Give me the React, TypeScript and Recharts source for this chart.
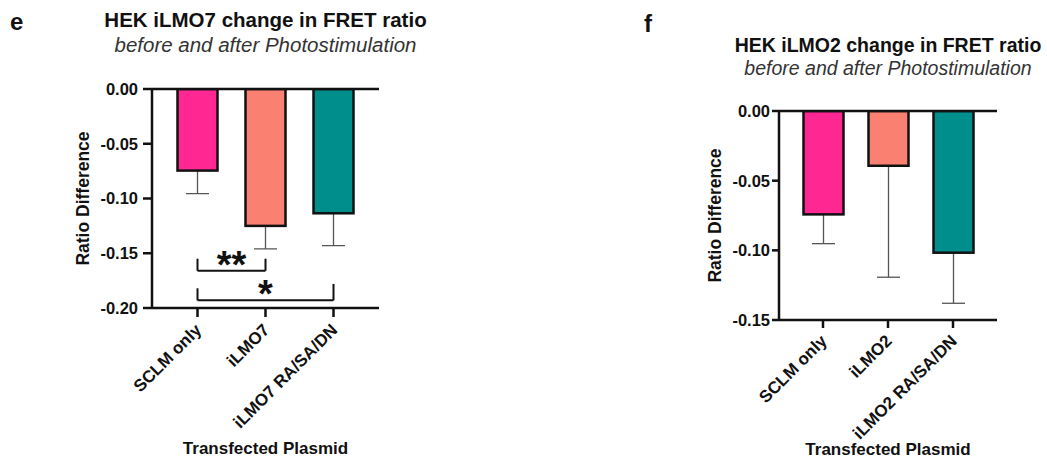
import { BarChart, Bar, XAxis, YAxis, ReferenceLine } from "recharts";

const FONT = '"Liberation Sans", Arial, Helvetica, sans-serif';

// panel e
const iLMO7Categories = ["SCLM only", "iLMO7", "iLMO7 RA/SA/DN"];
const iLMO7Means = [-0.0745, -0.125, -0.1135];
const iLMO7Errors = [0.021, 0.021, 0.0295];
const iLMO7Ticks = [0, -0.05, -0.1, -0.15, -0.2];

// panel f
const iLMO2Categories = ["SCLM only", "iLMO2", "iLMO2 RA/SA/DN"];
const iLMO2Means = [-0.0742, -0.0393, -0.1017];
const iLMO2Errors = [0.021, 0.08, 0.0363];
const iLMO2Ticks = [0, -0.05, -0.1, -0.15];

const barColors = ["#ff2893", "#fa8072", "#008e8c"];

// significance brackets for panel e (data units)
const bracketPairs = [
  ["SCLM only", "iLMO7"],
  ["SCLM only", "iLMO7 RA/SA/DN"],
];
const bracketLevels = [-0.166, -0.193];
const bracketLeftTops = [-0.155, -0.182];
const bracketRightTops = [-0.155, -0.178];
const bracketStars = ["**", "*"];

const ink = "#111";

function buildRows(cats: string[], means: number[], errs: number[]) {
  return cats.map((name, i) => ({
    name,
    value: means[i],
    err: errs[i],
    fill: barColors[i],
  }));
}

function BarWithError(props: any) {
  const { x, y, width, height, payload } = props;
  const top = Math.min(y, y + height);
  const h = Math.abs(height);
  const bottom = top + h;
  const perUnit = h / Math.abs(payload.value);
  const errEnd = bottom + payload.err * perUnit;
  const cx = x + width / 2;
  return (
    <g>
      <line x1={cx} x2={cx} y1={bottom} y2={errEnd} stroke="#555" strokeWidth={1.3} />
      <line x1={cx - 11.5} x2={cx + 11.5} y1={errEnd} y2={errEnd} stroke="#555" strokeWidth={1.3} />
      <rect x={x} y={top} width={width} height={h} fill={payload.fill} stroke={ink} strokeWidth={2.5} />
    </g>
  );
}

function RotatedTick(props: any) {
  const { x, y, payload } = props;
  return (
    <text
      transform={`translate(${x + 5},${y + 12}) rotate(-45)`}
      textAnchor="end"
      fontSize={17}
      fontWeight={700}
      fill={ink}
      fontFamily={FONT}
    >
      {payload.value}
    </text>
  );
}

function StarLabel(star: string) {
  return (props: any) => {
    const vb = props.viewBox || {};
    const cx = vb.x + (vb.width || 0) / 2;
    return (
      <text x={cx} y={vb.y + 7} textAnchor="middle" fontSize={38} fontWeight={700} fill={ink} fontFamily={FONT}>
        {star}
      </text>
    );
  };
}

const axisStroke = { stroke: ink, strokeWidth: 2.5 };

function Panel({
  rows,
  ticks,
  width,
  top,
  plotHeight,
  right,
  yAxisWidth,
  yLabelOffset,
  yTickSize,
  yTickMargin,
  xTickSize,
  xLabelOffset,
  brackets,
}: any) {
  const min = ticks[ticks.length - 1];
  return (
    <BarChart
      width={width}
      height={458}
      data={rows}
      margin={{ top, right, bottom: 0, left: 0 }}
      barSize={40}
    >
      <XAxis
        dataKey="name"
        height={458 - top - plotHeight}
        padding={{ left: 11.5, right: 11.5 }}
        interval={0}
        tickSize={xTickSize}
        axisLine={axisStroke}
        tickLine={axisStroke}
        tick={<RotatedTick />}
        label={{
          value: "Transfected Plasmid",
          position: "insideBottom",
          offset: xLabelOffset,
          style: { fontSize: 17, fontWeight: 700, fill: ink, fontFamily: FONT },
        }}
      />
      <YAxis
        domain={[min, 0]}
        ticks={ticks}
        interval={0}
        allowDataOverflow
        width={yAxisWidth}
        tickSize={yTickSize}
        tickMargin={yTickMargin}
        axisLine={axisStroke}
        tickLine={axisStroke}
        tick={{ fontSize: 16.5, fontWeight: 700, fill: ink, fontFamily: FONT }}
        tickFormatter={(v: number) => v.toFixed(2)}
        label={{
          value: "Ratio Difference",
          angle: -90,
          position: "insideLeft",
          offset: yLabelOffset,
          style: { textAnchor: "middle", fontSize: 17.5, fontWeight: 700, fill: ink, fontFamily: FONT },
        }}
      />
      <Bar dataKey="value" shape={<BarWithError />} isAnimationActive={false} />
      <ReferenceLine y={0} stroke={ink} strokeWidth={2.5} />
      {brackets &&
        bracketPairs.map((pair, i) => [
          <ReferenceLine
            key={`h${i}`}
            segment={[
              { x: pair[0], y: bracketLevels[i] },
              { x: pair[1], y: bracketLevels[i] },
            ]}
            stroke={ink}
            strokeWidth={2}
            label={{ content: StarLabel(bracketStars[i]) }}
          />,
          <ReferenceLine
            key={`l${i}`}
            segment={[
              { x: pair[0], y: bracketLevels[i] },
              { x: pair[0], y: bracketLeftTops[i] },
            ]}
            stroke={ink}
            strokeWidth={2}
          />,
          <ReferenceLine
            key={`r${i}`}
            segment={[
              { x: pair[1], y: bracketLevels[i] },
              { x: pair[1], y: bracketRightTops[i] },
            ]}
            stroke={ink}
            strokeWidth={2}
          />,
        ])}
    </BarChart>
  );
}

export default function App() {
  const rowsE = buildRows(iLMO7Categories, iLMO7Means, iLMO7Errors);
  const rowsF = buildRows(iLMO2Categories, iLMO2Means, iLMO2Errors);
  return (
    <div style={{ position: "absolute", left: 0, top: 0, width: 1047, height: 458, background: "#fff", overflow: "hidden", fontFamily: FONT }}>
      <div style={{ position: "absolute", left: 0, top: 0 }}>
        <Panel
          rows={rowsE}
          ticks={iLMO7Ticks}
          width={400}
          top={89}
          plotHeight={219}
          right={21}
          yAxisWidth={152}
          yLabelOffset={83}
          yTickSize={9}
          yTickMargin={5}
          xTickSize={9}
          xLabelOffset={4}
          brackets
        />
      </div>
      <div style={{ position: "absolute", left: 540, top: 0 }}>
        <Panel
          rows={rowsF}
          ticks={iLMO2Ticks}
          width={507}
          top={111}
          plotHeight={209}
          right={50}
          yAxisWidth={239}
          yLabelOffset={175}
          yTickSize={7}
          yTickMargin={2}
          xTickSize={8}
          xLabelOffset={3}
        />
      </div>
      <svg width={1047} height={458} style={{ position: "absolute", left: 0, top: 0, pointerEvents: "none" }}>
        <g fontFamily={FONT} fill={ink}>
          <text x={10} y={30} fontSize={24} fontWeight={700}>e</text>
          <text x={265.5} y={27} fontSize={20.5} fontWeight={700} textAnchor="middle">HEK iLMO7 change in FRET ratio</text>
          <text x={265.5} y={52} fontSize={20.5} fontStyle="italic" textAnchor="middle" fill="#333">before and after Photostimulation</text>
          <text x={644} y={32} fontSize={24} fontWeight={700}>f</text>
          <text x={888} y={52} fontSize={19.5} fontWeight={700} textAnchor="middle">HEK iLMO2 change in FRET ratio</text>
          <text x={888} y={75} fontSize={19.5} fontStyle="italic" textAnchor="middle" fill="#333">before and after Photostimulation</text>
        </g>
      </svg>
    </div>
  );
}
